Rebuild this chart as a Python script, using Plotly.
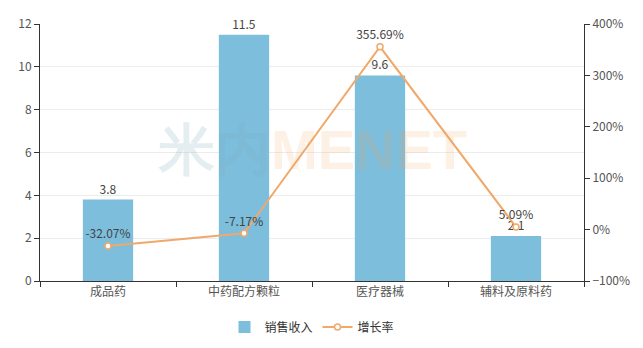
import plotly.graph_objects as go

categories = ["成品药", "中药配方颗粒", "医疗器械", "辅料及原料药"]
sales = [3.8, 11.5, 9.6, 2.1]
growth = [-32.07, -7.17, 355.69, 5.09]
sales_labels = ["3.8", "11.5", "9.6", "2.1"]
growth_labels = ["-32.07%", "-7.17%", "355.69%", "5.09%"]

FONT = "Noto Sans CJK SC, Microsoft YaHei, sans-serif"
BAR = "#7dbedc"
LINE = "#f0a96a"

fig = go.Figure()
fig.add_trace(go.Bar(
    x=categories, y=sales, name="销售收入",
    marker=dict(color=BAR, line=dict(width=0)),
    width=0.37,
    text=sales_labels, textposition="outside", cliponaxis=False,
    textfont=dict(size=12, color="#444", family=FONT),
    yaxis="y",
))
fig.add_trace(go.Scatter(
    x=categories, y=growth, name="增长率", mode="lines+markers+text",
    line=dict(color=LINE, width=2),
    marker=dict(symbol="circle", size=6, color="white", line=dict(color=LINE, width=1.5)),
    text=growth_labels, textposition="top center", cliponaxis=False,
    textfont=dict(size=12, color="#444", family=FONT),
    yaxis="y2",
))

fig.add_annotation(
    x=0.5, y=0.51, xref="paper", yref="paper",
    text="<b><span style='color:rgba(120,170,185,0.2)'>米内</span><span style='color:rgba(245,160,90,0.16)'>MENET</span></b>",
    showarrow=False, font=dict(size=56, family="Liberation Sans, Arial, sans-serif"),
)

fig.update_layout(
    width=643, height=348,
    margin=dict(l=40, r=59, t=24, b=67, autoexpand=False),
    paper_bgcolor="white", plot_bgcolor="white",
    font=dict(family=FONT, size=12, color="#555"),
    showlegend=True,
    legend=dict(orientation="h", x=0.5, xanchor="center", y=0.06, yanchor="middle",
                yref="container",
                font=dict(size=12, color="#333", family=FONT)),
    xaxis=dict(
        showline=True, linecolor="#333", linewidth=1,
        ticks="outside", ticklen=5, tickcolor="#333", tickson="boundaries",
        showgrid=False, tickfont=dict(size=12, color="#555"),
    ),
    yaxis=dict(
        range=[0, 12], dtick=2, showline=True, linecolor="#333", linewidth=1,
        ticks="outside", ticklen=5, tickcolor="#333",
        showgrid=True, gridcolor="#ececec", zeroline=False,
        tickfont=dict(size=12, color="#555"),
    ),
    yaxis2=dict(
        range=[-100, 400], dtick=100, overlaying="y", side="right",
        showline=True, linecolor="#333", linewidth=1,
        ticks="outside", ticklen=5, tickcolor="#333",
        showgrid=False, zeroline=False, ticksuffix="%",
        tickfont=dict(size=12, color="#555"),
    ),
)

fig.write_html("out.html")
